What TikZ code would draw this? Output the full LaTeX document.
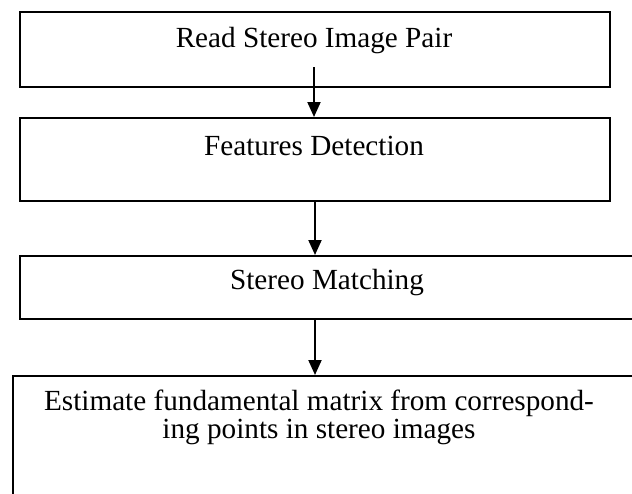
\documentclass[tikz,border=0pt]{standalone}
\usepackage{fontspec}
\setmainfont{Liberation Serif}
\usetikzlibrary{arrows.meta}
\begin{document}
\begin{tikzpicture}[x=0.5pt,y=-0.5pt,
	box/.style={draw,line width=1pt,inner sep=0pt,anchor=north west},
	txt/.style={anchor=base,inner sep=0pt,font=\fontsize{14.6}{16}\selectfont},
	flow/.style={-{Triangle[length=7.5pt,width=6.5pt]},line width=1pt}]
	\useasboundingbox (0,0) rectangle (632,493);
	\clip (0,0) rectangle (632,493);
	\node[box,minimum width=295pt,minimum height=37.5pt] (read) at (19,11) {};
	\node[txt] (readtxt) at (314,47) {Read Stereo Image Pair};
	\node[box,minimum width=295pt,minimum height=41.5pt] (feat) at (19,117) {};
	\node[txt] (feattxt) at (314,155) {Features Detection};
	\node[box,minimum width=310.5pt,minimum height=31.5pt] (match) at (19,255) {};
	\node[txt] (matchtxt) at (327,289) {Stereo Matching};
	\node[box,minimum width=320pt,minimum height=70pt] (est) at (12,375) {};
	\node[txt] (esttxta) at (319,410) {Estimate fundamental matrix from correspond-};
	\node[txt] (esttxtb) at (319,438) {ing points in stereo images};
	\coordinate (start) at (314,67);
	\draw[flow] (start) -- (start |- feat.north);
	\draw[flow] (feat.south) -- (feat.south |- match.north);
	\draw[flow] (match.south -| feat.south) -- (feat.south |- est.north);
\end{tikzpicture}
\end{document}
